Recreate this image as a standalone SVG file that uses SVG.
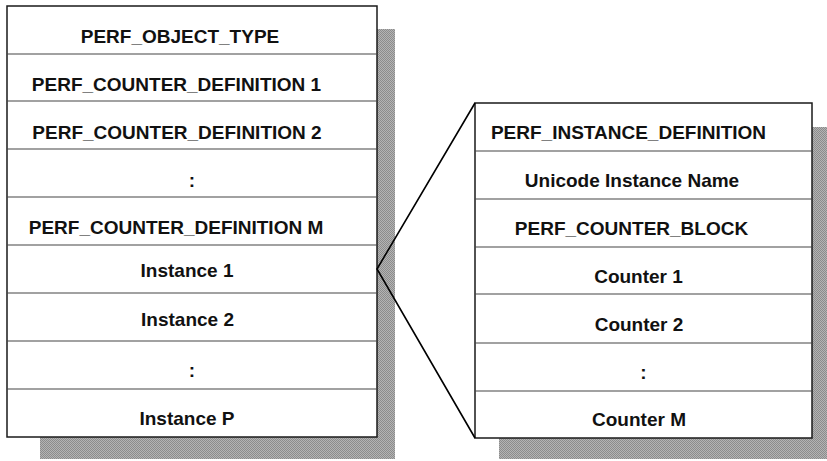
<svg xmlns="http://www.w3.org/2000/svg" width="827" height="461" viewBox="0 0 827 461">
<defs>
<pattern id="halftone" width="2" height="2" patternUnits="userSpaceOnUse">
<rect width="2" height="2" fill="#b4b4b4"/>
<rect width="1" height="1" fill="#8c8c8c"/>
<rect x="1" y="1" width="1" height="1" fill="#8c8c8c"/>
</pattern>
</defs>
<style>
.shadow{fill:url(#halftone);stroke:none}
.box{fill:#ffffff;stroke:#1a1a1a;stroke-width:1.5}
.div{stroke:#444;stroke-width:1.2}
.lbl{font-family:"Liberation Sans",Arial,sans-serif;font-weight:bold;font-size:19px;fill:#111;text-anchor:middle}
.conn{fill:none;stroke:#000;stroke-width:1.6}
</style>
<rect width="827" height="461" fill="#ffffff"/>

<g id="object-block">
<rect class="shadow" x="40" y="29" width="355" height="430"/>
<rect class="box" x="7" y="6" width="370" height="431"/>
<g id="obj-rows">
<line class="div" x1="7" y1="54" x2="377" y2="54"/>
<line class="div" x1="7" y1="101" x2="377" y2="101"/>
<line class="div" x1="7" y1="149" x2="377" y2="149"/>
<line class="div" x1="7" y1="197" x2="377" y2="197"/>
<line class="div" x1="7" y1="245" x2="377" y2="245"/>
<line class="div" x1="7" y1="293" x2="377" y2="293"/>
<line class="div" x1="7" y1="341" x2="377" y2="341"/>
<line class="div" x1="7" y1="389" x2="377" y2="389"/>
</g>
<g id="perf-object-type"><text class="lbl" x="180" y="43">PERF_OBJECT_TYPE</text></g>
<g id="counter-def-1"><text class="lbl" x="176.5" y="91">PERF_COUNTER_DEFINITION 1</text></g>
<g id="counter-def-2"><text class="lbl" x="177" y="139">PERF_COUNTER_DEFINITION 2</text></g>
<g id="counter-def-ellipsis"><text class="lbl" x="192" y="187">:</text></g>
<g id="counter-def-m"><text class="lbl" x="176" y="234">PERF_COUNTER_DEFINITION M</text></g>
<g id="instance-1"><text class="lbl" x="187" y="277">Instance 1</text></g>
<g id="instance-2"><text class="lbl" x="187.5" y="326">Instance 2</text></g>
<g id="instance-ellipsis"><text class="lbl" x="192" y="377">:</text></g>
<g id="instance-p"><text class="lbl" x="187" y="425">Instance P</text></g>
</g>

<g id="instance-block">
<rect class="shadow" x="499" y="127" width="328" height="332"/>
<rect class="box" x="475" y="103" width="337" height="335"/>
<g id="inst-rows">
<line class="div" x1="475" y1="151" x2="812" y2="151"/>
<line class="div" x1="475" y1="199" x2="812" y2="199"/>
<line class="div" x1="475" y1="247" x2="812" y2="247"/>
<line class="div" x1="475" y1="294" x2="812" y2="294"/>
<line class="div" x1="475" y1="343" x2="812" y2="343"/>
<line class="div" x1="475" y1="391" x2="812" y2="391"/>
</g>
<g id="perf-instance-definition"><text class="lbl" x="628.5" y="139">PERF_INSTANCE_DEFINITION</text></g>
<g id="unicode-instance-name"><text class="lbl" x="632" y="187">Unicode Instance Name</text></g>
<g id="perf-counter-block"><text class="lbl" x="631.5" y="235">PERF_COUNTER_BLOCK</text></g>
<g id="counter-1"><text class="lbl" x="638.5" y="283">Counter 1</text></g>
<g id="counter-2"><text class="lbl" x="639" y="331">Counter 2</text></g>
<g id="counter-ellipsis"><text class="lbl" x="643.5" y="379">:</text></g>
<g id="counter-m"><text class="lbl" x="639" y="426">Counter M</text></g>
</g>

<g id="connectors">
<polyline class="conn" points="475,103 377,269 475,438"/>
</g>
</svg>
